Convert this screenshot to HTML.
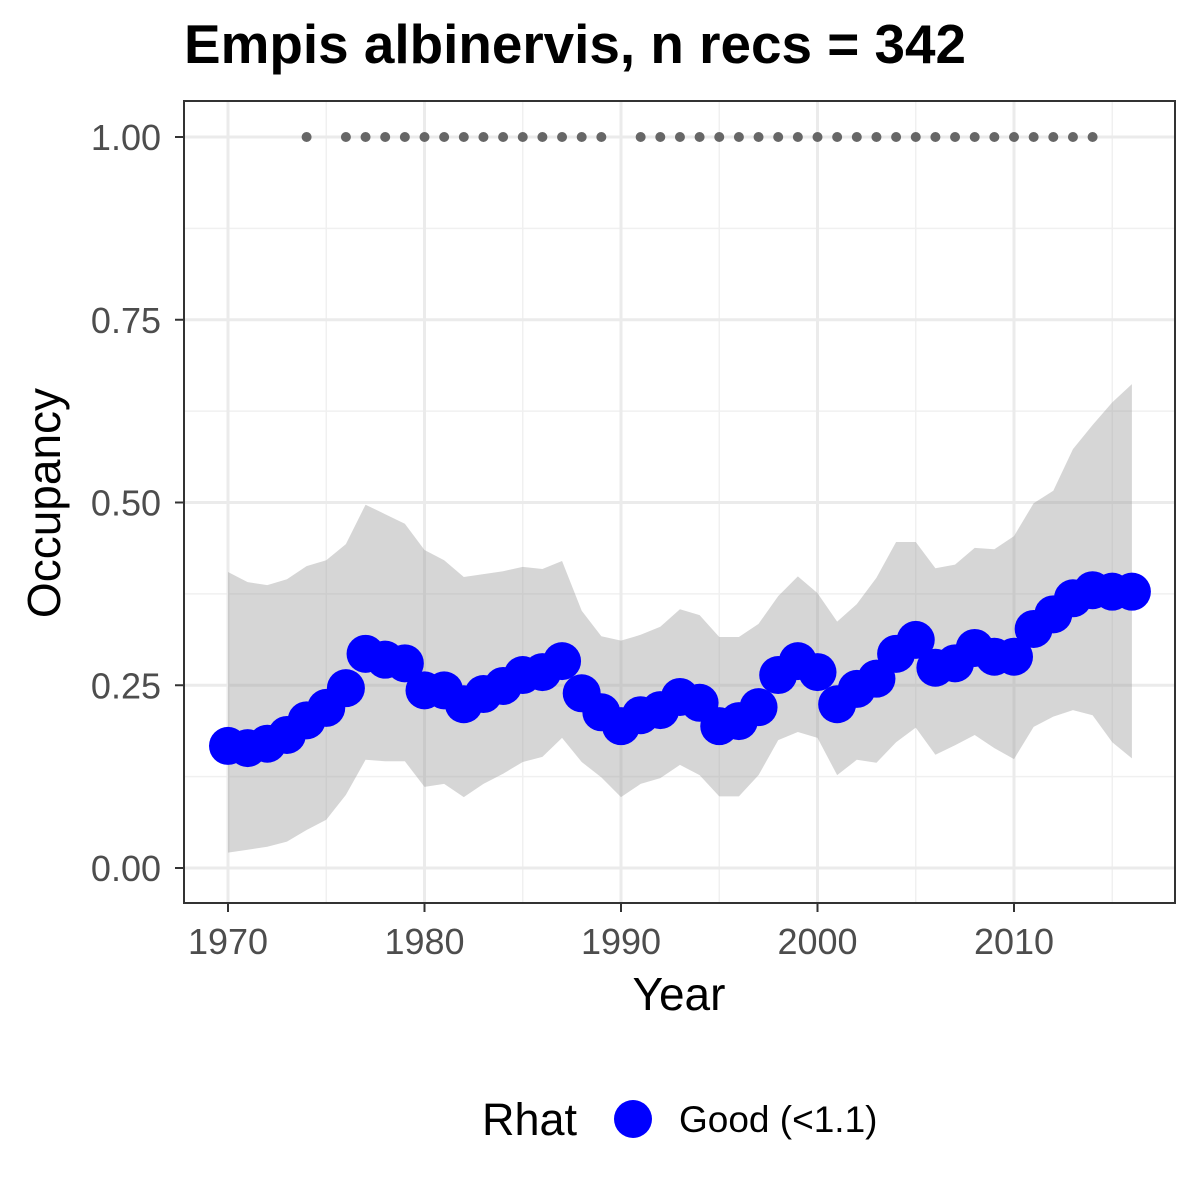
<!DOCTYPE html>
<html><head><meta charset="utf-8"><style>
html,body{margin:0;padding:0;background:#fff;}
svg{display:block;font-family:"Liberation Sans",Arial,sans-serif;}
</style></head><body>
<svg id="chart" width="1200" height="1200" viewBox="0 0 1200 1200" xmlns="http://www.w3.org/2000/svg">
<rect width="1200" height="1200" fill="#fff"/>
<text x="184" y="63" font-size="55" font-weight="bold" fill="#000" textLength="782" lengthAdjust="spacingAndGlyphs">Empis albinervis, n recs = 342</text>
<g id="grid"></g>
<g id="band"></g>
<g id="recs"></g>
<g id="means"></g>
<rect x="184" y="101" width="991" height="802" fill="none" stroke="#333" stroke-width="2"/>
<g id="axes"></g>
<text x="679" y="1010" font-size="46" text-anchor="middle" fill="#000">Year</text>
<text transform="translate(60,503) rotate(-90)" font-size="46" text-anchor="middle" fill="#000">Occupancy</text>
<g>
<text x="482" y="1135" font-size="45" fill="#000">Rhat</text>
<circle cx="633" cy="1119" r="19" fill="#0000ff"/>
<text x="679" y="1132" font-size="37" fill="#000">Good (&lt;1.1)</text>
</g>
</svg>
<script>
const years = [1970,1971,1972,1973,1974,1975,1976,1977,1978,1979,1980,1981,1982,1983,1984,1985,1986,1987,1988,1989,1990,1991,1992,1993,1994,1995,1996,1997,1998,1999,2000,2001,2002,2003,2004,2005,2006,2007,2008,2009,2010,2011,2012,2013,2014,2015,2016];
const meanOcc = [0.167,0.164,0.170,0.182,0.202,0.219,0.246,0.293,0.285,0.280,0.243,0.243,0.224,0.238,0.249,0.264,0.268,0.283,0.239,0.213,0.194,0.209,0.216,0.234,0.226,0.194,0.201,0.220,0.264,0.283,0.268,0.224,0.245,0.259,0.293,0.312,0.274,0.280,0.301,0.289,0.289,0.327,0.347,0.369,0.380,0.378,0.378];
const upperCI = [0.405,0.391,0.387,0.395,0.413,0.421,0.443,0.497,0.484,0.471,0.435,0.421,0.398,0.402,0.406,0.412,0.409,0.420,0.352,0.317,0.311,0.319,0.330,0.354,0.346,0.316,0.316,0.334,0.372,0.399,0.376,0.337,0.361,0.397,0.446,0.446,0.410,0.415,0.438,0.436,0.454,0.499,0.516,0.573,0.606,0.637,0.662];
const lowerCI = [0.021,0.025,0.029,0.036,0.052,0.066,0.100,0.148,0.146,0.146,0.111,0.115,0.097,0.115,0.129,0.145,0.152,0.178,0.145,0.124,0.097,0.115,0.123,0.141,0.127,0.098,0.098,0.127,0.175,0.186,0.178,0.127,0.148,0.144,0.172,0.192,0.155,0.168,0.182,0.164,0.149,0.193,0.207,0.216,0.209,0.172,0.150];
const recordYears = [1974,1976,1977,1978,1979,1980,1981,1982,1983,1984,1985,1986,1987,1988,1989,1991,1992,1993,1994,1995,1996,1997,1998,1999,2000,2001,2002,2003,2004,2005,2006,2007,2008,2009,2010,2011,2012,2013,2014];
const xTicks = [1970,1980,1990,2000,2010];
const yTicks = [0,0.25,0.5,0.75,1];
const yTickLabels = ["0.00","0.25","0.50","0.75","1.00"];

const NS="http://www.w3.org/2000/svg";
const X = y => 228 + (y-1970)*(1014-228)/40;
const Y = v => 868 - v*(868-137);
function mk(tag, parent, attrs){const e=document.createElementNS(NS,tag);for(const k in attrs)e.setAttribute(k,attrs[k]);document.getElementById(parent).appendChild(e);return e;}

[0.125,0.375,0.625,0.875].forEach(v=>{const l=mk('line','grid',{x1:184,x2:1175,y1:Y(v),y2:Y(v),stroke:'#f0f0f0','stroke-width':1.5});

});
[1975,1985,1995,2005,2015].forEach(v=>{const l=mk('line','grid',{x1:X(v),x2:X(v),y1:101,y2:903,stroke:'#f0f0f0','stroke-width':1.5});

});
yTicks.forEach(v=>{const l=mk('line','grid',{x1:184,x2:1175,y1:Y(v),y2:Y(v),stroke:'#ebebeb','stroke-width':3});

});
xTicks.forEach(v=>{const l=mk('line','grid',{x1:X(v),x2:X(v),y1:101,y2:903,stroke:'#ebebeb','stroke-width':3});

});

let pts=years.map((y,i)=>X(y)+','+Y(upperCI[i]));
for(let i=years.length-1;i>=0;i--)pts.push(X(years[i])+','+Y(lowerCI[i]));
const band=mk('polygon','band',{points:pts.join(' '),fill:'#999','fill-opacity':0.4});



recordYears.forEach(y=>{const c=mk('circle','recs',{cx:X(y),cy:Y(1),r:5,fill:'#666'});

});

years.forEach((y,i)=>{const c=mk('circle','means',{cx:X(y),cy:Y(meanOcc[i]),r:19,fill:'#0000ff'});

});

xTicks.forEach(v=>{const t=mk('line','axes',{x1:X(v),x2:X(v),y1:903,y2:912,stroke:'#333','stroke-width':2});


const tx=mk('text','axes',{x:X(v),y:954,'font-size':36,'text-anchor':'middle',fill:'#4d4d4d'});tx.textContent=v;

});
yTicks.forEach((v,i)=>{const t=mk('line','axes',{x1:175,x2:184,y1:Y(v),y2:Y(v),stroke:'#333','stroke-width':2});


const tx=mk('text','axes',{x:161,y:Y(v)+13,'font-size':36,'text-anchor':'end',fill:'#4d4d4d'});tx.textContent=yTickLabels[i];

});
</script>
</body></html>
